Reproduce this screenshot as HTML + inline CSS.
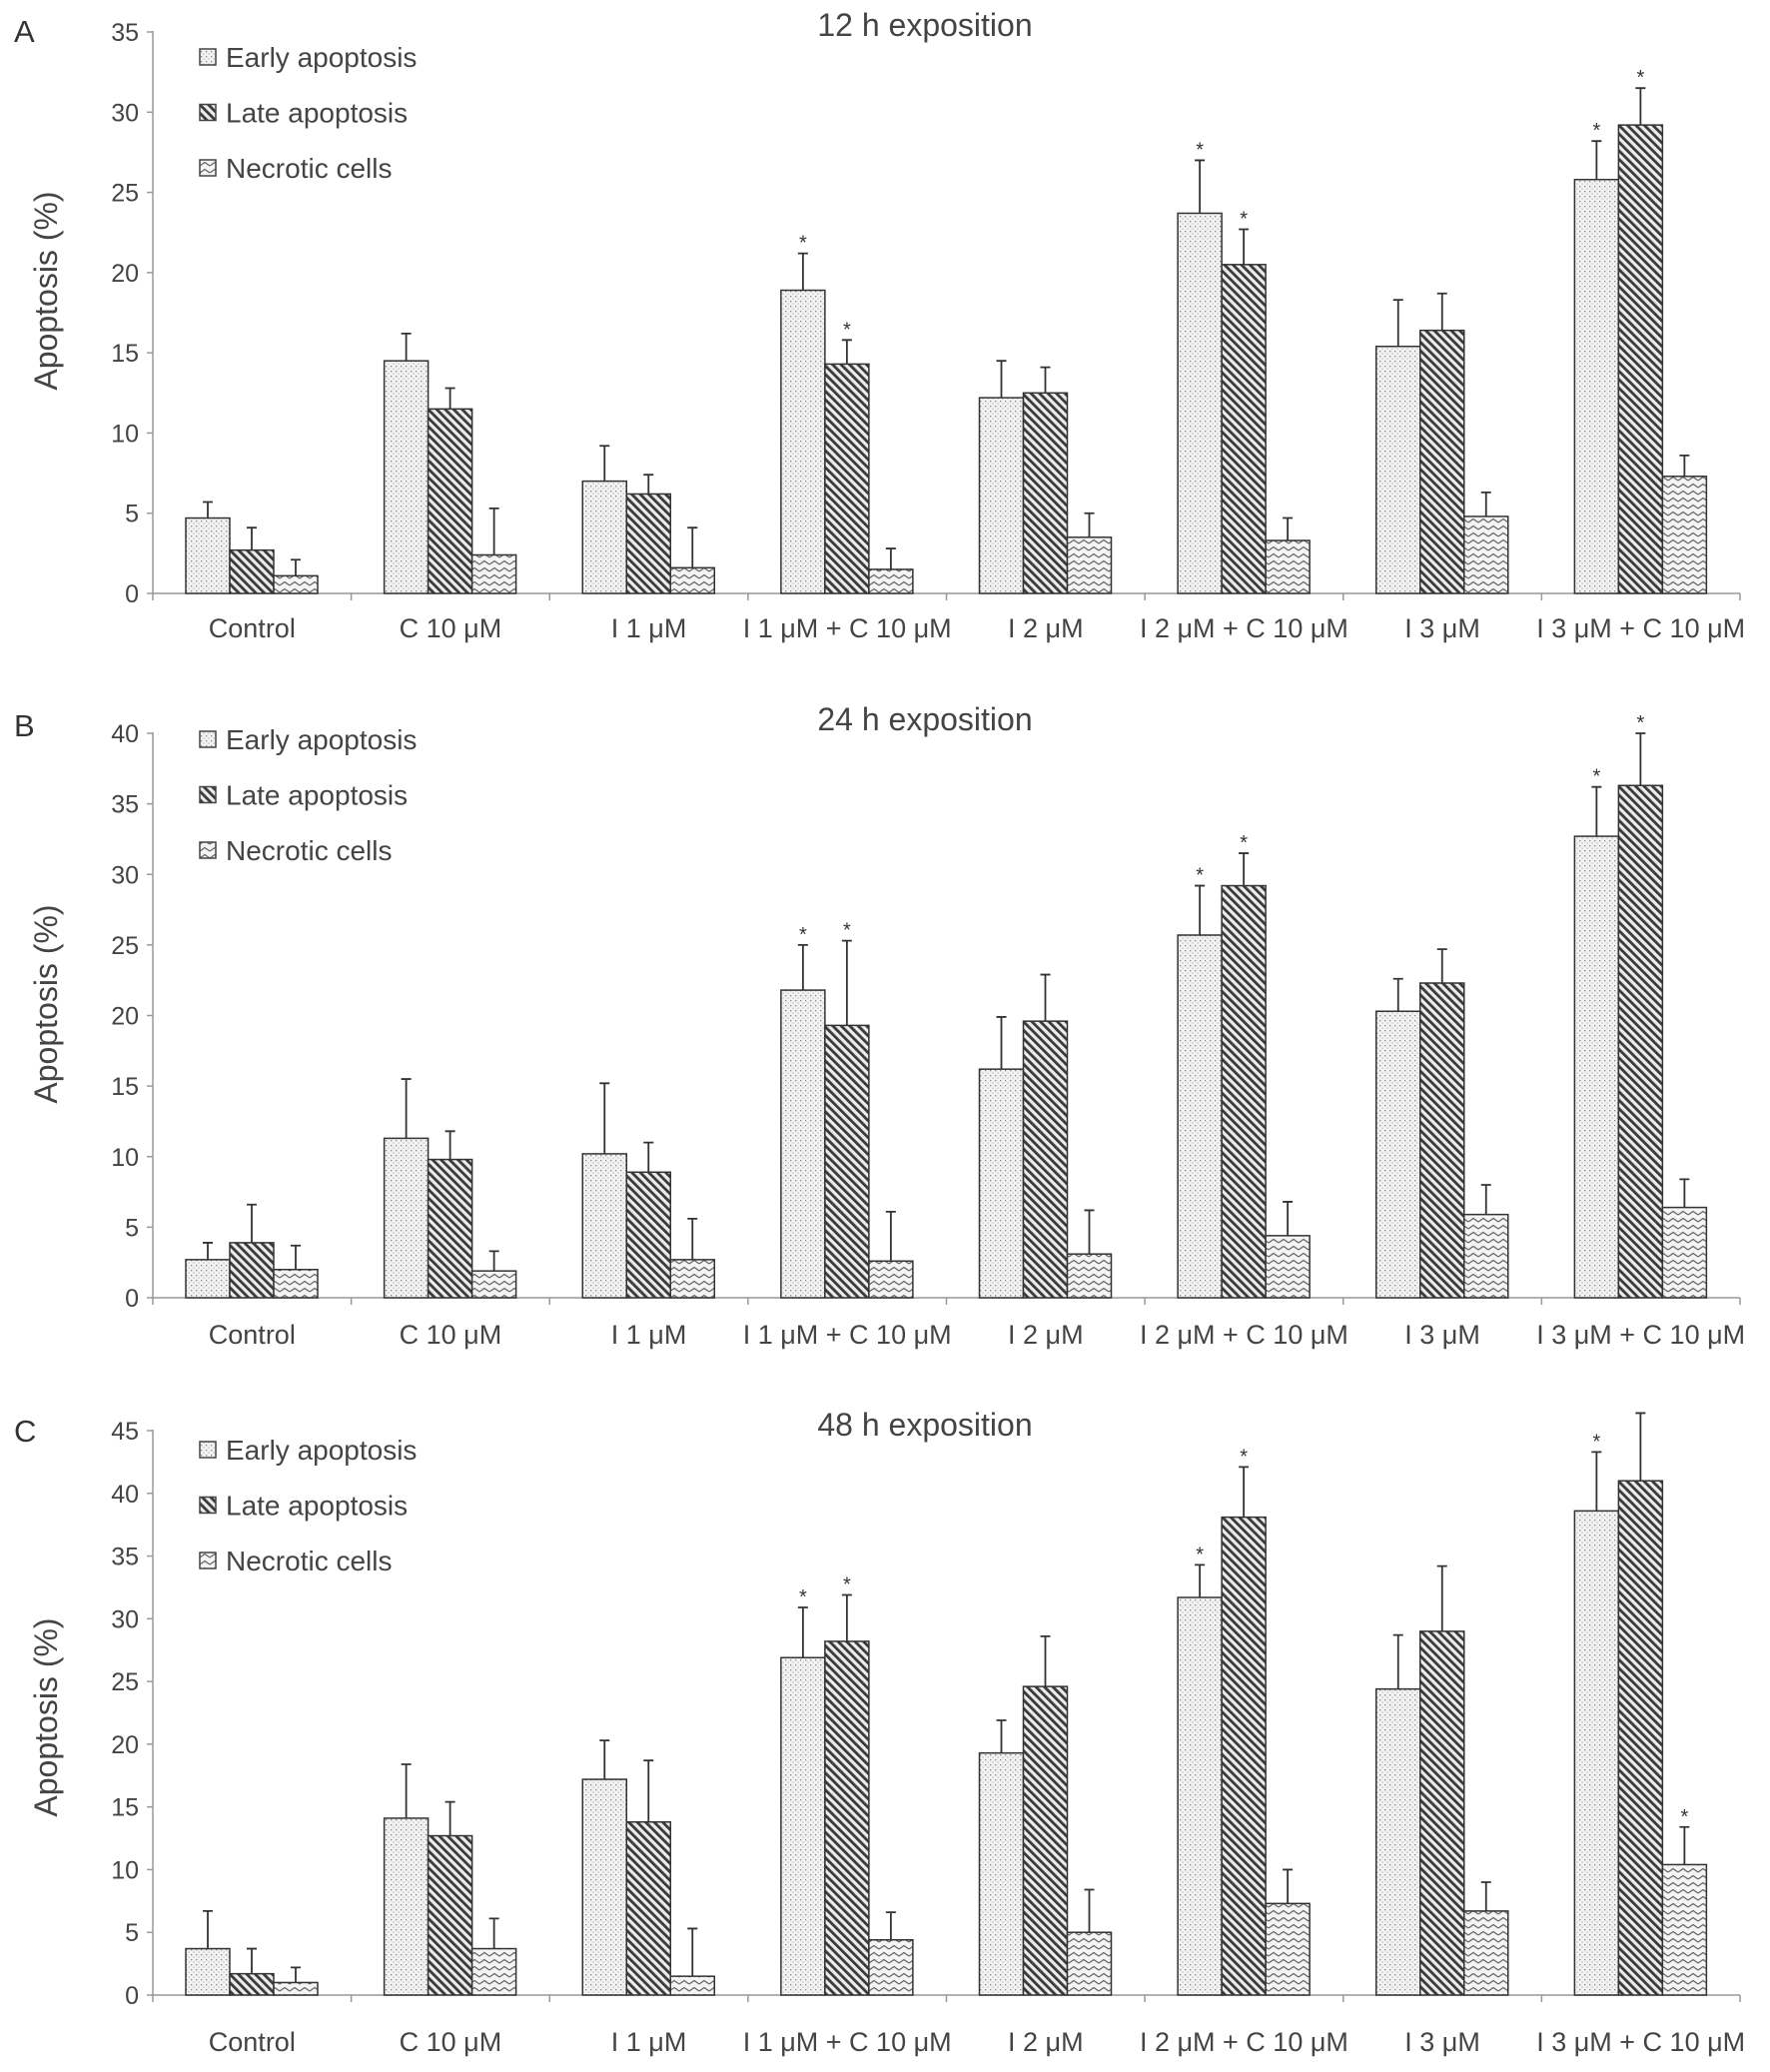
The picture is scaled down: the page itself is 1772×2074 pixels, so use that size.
<!DOCTYPE html>
<html><head><meta charset="utf-8"><style>
html,body{margin:0;padding:0;background:#fff;}
svg{display:block;font-family:"Liberation Sans",Arial,sans-serif;}
</style></head><body>
<svg id="chart" width="1772" height="2074" viewBox="0 0 1772 2074" xmlns="http://www.w3.org/2000/svg">
<defs>
<pattern id="pEarly" width="5" height="5" patternUnits="userSpaceOnUse">
<rect width="5" height="5" fill="#f2f2f2"/><rect x="1" y="1" width="1.3" height="1.3" fill="#888"/><rect x="3.5" y="3.5" width="1.1" height="1.1" fill="#aaa"/>
</pattern>
<pattern id="pLate" width="6" height="6" patternUnits="userSpaceOnUse" patternTransform="rotate(-45)">
<rect width="6" height="6" fill="#ececec"/><rect x="0" y="0" width="2.8" height="6" fill="#3a3a3a"/>
</pattern>
<pattern id="pNec" width="10" height="7" patternUnits="userSpaceOnUse">
<rect width="10" height="7" fill="#f4f4f4"/><path d="M0 5 L5 1.5 L10 5" fill="none" stroke="#666" stroke-width="1.3"/>
</pattern>
</defs>
</svg>
<script>
const categories = ["Control","C 10 μM","I 1 μM","I 1 μM + C 10 μM","I 2 μM","I 2 μM + C 10 μM","I 3 μM","I 3 μM + C 10 μM"];
const seriesNames = ["Early apoptosis","Late apoptosis","Necrotic cells"];
const aEarly = [4.7,14.5,7.0,18.9,12.2,23.7,15.4,25.8];
const aEarlyErr = [5.7,16.2,9.2,21.2,14.5,27.0,18.3,28.2];
const aLate = [2.7,11.5,6.2,14.3,12.5,20.5,16.4,29.2];
const aLateErr = [4.1,12.8,7.4,15.8,14.1,22.7,18.7,31.5];
const aNec = [1.1,2.4,1.6,1.5,3.5,3.3,4.8,7.3];
const aNecErr = [2.1,5.3,4.1,2.8,5.0,4.7,6.3,8.6];
const aStars = [[3,5,7],[3,5,7],[]];
const bEarly = [2.7,11.3,10.2,21.8,16.2,25.7,20.3,32.7];
const bEarlyErr = [3.9,15.5,15.2,25.0,19.9,29.2,22.6,36.2];
const bLate = [3.9,9.8,8.9,19.3,19.6,29.2,22.3,36.3];
const bLateErr = [6.6,11.8,11.0,25.3,22.9,31.5,24.7,40.0];
const bNec = [2.0,1.9,2.7,2.6,3.1,4.4,5.9,6.4];
const bNecErr = [3.7,3.3,5.6,6.1,6.2,6.8,8.0,8.4];
const bStars = [[3,5,7],[3,5,7],[]];
const cEarly = [3.7,14.1,17.2,26.9,19.3,31.7,24.4,38.6];
const cEarlyErr = [6.7,18.4,20.3,30.9,21.9,34.3,28.7,43.3];
const cLate = [1.7,12.7,13.8,28.2,24.6,38.1,29.0,41.0];
const cLateErr = [3.7,15.4,18.7,31.9,28.6,42.1,34.2,46.4];
const cNec = [1.0,3.7,1.5,4.4,5.0,7.3,6.7,10.4];
const cNecErr = [2.2,6.1,5.3,6.6,8.4,10.0,9.0,13.4];
const cStars = [[3,5,7],[3,5],[7]];
const aTicks = [0,5,10,15,20,25,30,35];
const bTicks = [0,5,10,15,20,25,30,35,40];
const cTicks = [0,5,10,15,20,25,30,35,40,45];

const NS="http://www.w3.org/2000/svg";
const svg=document.getElementById('chart');
function mk(tag,attrs,parent){const e=document.createElementNS(NS,tag);for(const k in attrs)e.setAttribute(k,attrs[k]);(parent||svg).appendChild(e);return e;}
const fills=["url(#pEarly)","url(#pLate)","url(#pNec)"];
const keys=["early","late","necrotic"];

function panel(p){
  const g=mk('g',{});
  
  
  const x0=153,x1=1742,y0=p.y0,ymax=p.ticks[p.ticks.length-1],ytop=p.ytop;
  const yS=v=>y0-(v/ymax)*(y0-ytop);
  const cw=(x1-x0)/categories.length;
  const bw=44;
  const gx=i=>x0+i*cw+33;
  let t=mk('text',{x:14,y:p.letterY,'font-size':31,fill:'#333'},g);t.textContent=p.letter;
  
  t=mk('text',{x:926,y:p.titleY,'font-size':32,fill:'#444','text-anchor':'middle'},g);t.textContent=p.title;
  
  t=mk('text',{x:0,y:0,'font-size':32,fill:'#444','text-anchor':'middle',transform:`translate(57,${p.ytY}) rotate(-90)`},g);t.textContent='Apoptosis (%)';
  
  let l=mk('line',{x1:x0,y1:ytop-1,x2:x0,y2:y0,stroke:'#999','stroke-width':1.5},g);
  
  l=mk('line',{x1:x0,y1:y0,x2:x1,y2:y0,stroke:'#999','stroke-width':1.5},g);
  
  p.ticks.forEach(v=>{
    mk('line',{x1:x0-6,y1:yS(v),x2:x0,y2:yS(v),stroke:'#999','stroke-width':1.5},g);
    const tt=mk('text',{x:x0-14,y:yS(v)+9,'font-size':25,fill:'#444','text-anchor':'end'},g);tt.textContent=v;
    
  });
  for(let i=0;i<=categories.length;i++){mk('line',{x1:x0+i*cw,y1:y0,x2:x0+i*cw,y2:y0+7,stroke:'#999','stroke-width':1.5},g);}
  categories.forEach((c,i)=>{
    const tt=mk('text',{x:x0+i*cw+cw/2,y:y0+p.labOff,'font-size':27,fill:'#444','text-anchor':'middle'},g);tt.textContent=c;
    
  });
  p.series.forEach((s,si)=>{
    s.v.forEach((v,i)=>{
      const bx=gx(i)+si*bw;
      const r=mk('rect',{x:bx,y:yS(v),width:bw,height:y0-yS(v),fill:fills[si],stroke:'#333','stroke-width':1.5},g);
      
      
      const cx=bx+bw/2,ey=yS(s.e[i]);
      const eb=mk('path',{d:`M${cx} ${yS(v)}V${ey}M${cx-5} ${ey}H${cx+5}`,stroke:'#333','stroke-width':1.8,fill:'none'},g);
      
      
      if(p.stars[si].includes(i)){
        const st=mk('text',{x:cx,y:ey-4,'font-size':20,fill:'#333','text-anchor':'middle'},g);st.textContent='*';
        
      }
    });
  });
  seriesNames.forEach((n,si)=>{
    const ly=p.legY+si*55.5;
    const r=mk('rect',{x:200,y:ly-9,width:16,height:16,fill:fills[si],stroke:'#444','stroke-width':1.5},g);
    
    
    const tt=mk('text',{x:226,y:ly+9,'font-size':28,fill:'#444'},g);tt.textContent=n;
    
    
  });
}
panel({letter:'A',letterY:42,title:'12 h exposition',titleY:36,y0:594,ytop:32,ticks:aTicks,legY:58,labOff:44,ytY:291,
  series:[{v:aEarly,e:aEarlyErr},{v:aLate,e:aLateErr},{v:aNec,e:aNecErr}],stars:aStars});
panel({letter:'B',letterY:737,title:'24 h exposition',titleY:731,y0:1299,ytop:734,ticks:bTicks,legY:741,labOff:46,ytY:1005,
  series:[{v:bEarly,e:bEarlyErr},{v:bLate,e:bLateErr},{v:bNec,e:bNecErr}],stars:bStars});
panel({letter:'C',letterY:1443,title:'48 h exposition',titleY:1437,y0:1997,ytop:1432,ticks:cTicks,legY:1452,labOff:56,ytY:1719,
  series:[{v:cEarly,e:cEarlyErr},{v:cLate,e:cLateErr},{v:cNec,e:cNecErr}],stars:cStars});
</script>
</body></html>
